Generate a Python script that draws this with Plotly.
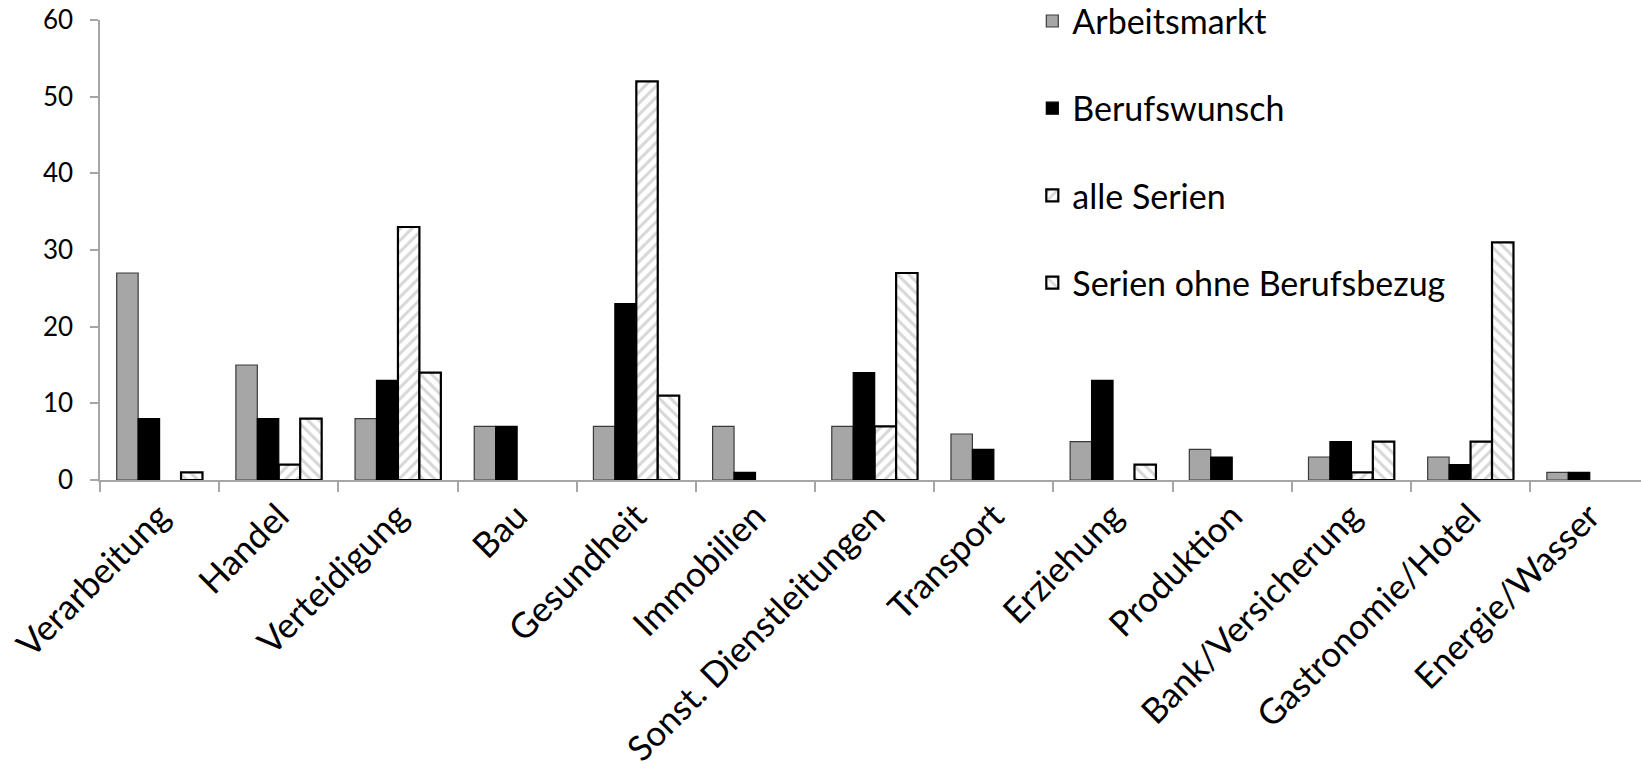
import plotly.graph_objects as go

# Branchen (Kategorien der x-Achse)
branchen = [
    "Verarbeitung", "Handel", "Verteidigung", "Bau", "Gesundheit",
    "Immobilien", "Sonst. Dienstleitungen", "Transport", "Erziehung",
    "Produktion", "Bank/Versicherung", "Gastronomie/Hotel", "Energie/Wasser",
]

# Werte je Serie
arbeitsmarkt = [27, 15, 8, 7, 7, 7, 7, 6, 5, 4, 3, 3, 1]
berufswunsch = [8, 8, 13, 7, 23, 1, 14, 4, 13, 3, 5, 2, 1]
alle_serien = [0, 2, 33, 0, 52, 0, 7, 0, 0, 0, 1, 5, 0]
serien_ohne_bezug = [1, 8, 14, 0, 11, 0, 27, 0, 2, 0, 5, 31, 0]

y_ticks = [0, 10, 20, 30, 40, 50, 60]

FONT = "Lato"
TEXT = "#000000"
AXIS = "#a6a6a6"


def shown(values):
    # empty categories get no bar at all (no outline stroke on the axis)
    return [v if v else None for v in values]


fig = go.Figure()

fig.add_bar(
    x=branchen, y=shown(arbeitsmarkt), name="Arbeitsmarkt", legendgroup="a",
    marker=dict(color="#a6a6a6", line=dict(color="#3a3a3a", width=1.2)),
)
fig.add_bar(
    x=branchen, y=shown(berufswunsch), name="Berufswunsch", legendgroup="b",
    marker=dict(color="#000000", line=dict(color="#000000", width=1.2)),
)
fig.add_bar(
    x=branchen, y=shown(alle_serien), name="alle Serien", legendgroup="c",
    marker=dict(
        color="white",
        line=dict(color="#000000", width=2.2),
        pattern=dict(shape="/", fgcolor="#b0b0b0", bgcolor="white",
                     size=8, solidity=0.38, fillmode="overlay"),
    ),
)
fig.add_bar(
    x=branchen, y=shown(serien_ohne_bezug), name="Serien ohne Berufsbezug",
    legendgroup="d",
    marker=dict(
        color="white",
        line=dict(color="#000000", width=2.2),
        pattern=dict(shape="\\", fgcolor="#b0b0b0", bgcolor="white",
                     size=8, solidity=0.38, fillmode="overlay"),
    ),
)

fig.update_layout(
    width=1641, height=771,
    margin=dict(l=100, r=0, t=20, b=291, autoexpand=False),
    paper_bgcolor="white", plot_bgcolor="white",
    barmode="group", bargap=0.28, bargroupgap=0,
    font=dict(family=FONT, color=TEXT),
    legend=dict(
        x=0.605, y=1.06, xanchor="left", yanchor="top",
        font=dict(size=34, family=FONT, color=TEXT),
        tracegroupgap=40, bgcolor="rgba(0,0,0,0)",
    ),
    showlegend=True,
)

fig.update_xaxes(
    type="category",
    range=[-0.5, 12.43],
    showline=True, linecolor=AXIS, linewidth=1.5,
    ticks="outside", tickson="boundaries", ticklen=10,
    tickcolor=AXIS, tickwidth=1.5,
    tickangle=-45,
    tickfont=dict(size=35, family=FONT, color=TEXT),
    showgrid=False, zeroline=False,
)
fig.update_yaxes(
    range=[0, 60],
    tickvals=y_ticks,
    showline=True, linecolor=AXIS, linewidth=1.5,
    ticks="outside", ticklen=8, tickcolor=AXIS, tickwidth=1.5,
    ticklabelstandoff=12,
    tickfont=dict(size=26, family=FONT, color=TEXT),
    showgrid=False, zeroline=False,
)

fig.write_html("out.html")
